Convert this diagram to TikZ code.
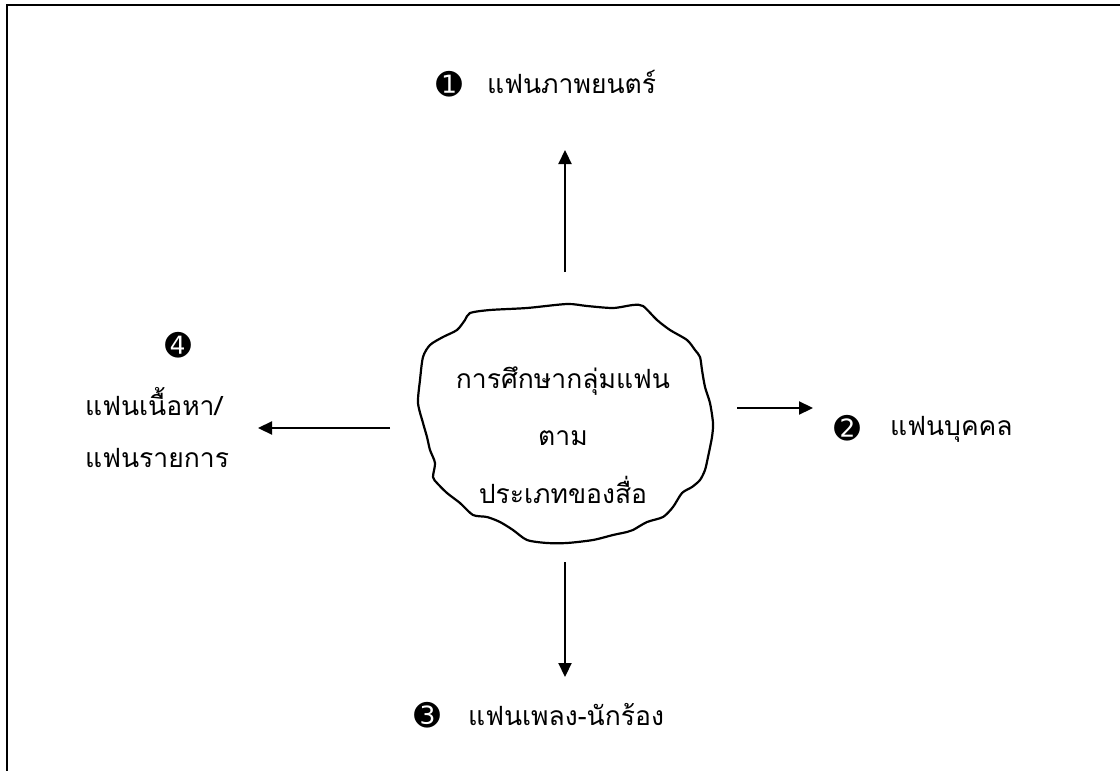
\documentclass[tikz,border=0pt]{standalone}
\usepackage{fontspec}
\newfontfamily\thaifont[Script=Thai]{Loma}
\newfontfamily\numfont{DejaVu Sans}
\usetikzlibrary{arrows.meta}
\tikzset{
  thai/.style={inner sep=0pt, font=\thaifont\fontsize{26.5}{30}\selectfont},
  num/.style={inner sep=0pt, font=\numfont\fontsize{31}{31}\selectfont},
  conn/.style={line width=2.2pt, -{Triangle[length=14pt,width=13pt]}},
  frame/.style={line width=2.6pt},
  cloudline/.style={line width=2.2pt, line join=round}
}
\begin{document}
\begin{tikzpicture}[x=1pt,y=-1pt]
\useasboundingbox (0,0) rectangle (1120,771);
% frame (top and left edges only)
\draw[frame] (7,771) -- (7,5) -- (1120,5);
% cloud
\draw[cloudline] plot[smooth cycle, tension=0.45] coordinates {
 (470,313) (490,310) (527,308) (567,304) (587,306) (613,308) (633,305) (643,306)
 (657,320) (670,330) (687,340) (695,350) (700,357) (702,370) (705,387) (710,403)
 (713,423) (712,437) (708,457) (705,470) (700,480) (692,487) (682,493) (673,507)
 (663,517) (647,522) (633,530) (627,532) (613,535) (593,540) (567,543) (547,543)
 (527,540) (513,530) (500,522) (487,517) (473,515) (460,503) (447,493) (437,483)
 (433,477) (435,463) (430,450) (427,437) (423,423) (418,403) (420,380) (423,357)
 (430,345) (443,337) (457,330) (465,320)};
% centre text
\node[thai, anchor=base] (c1) at (563,388) {การศึกษากลุ่มแฟน};
\node[thai, anchor=base] (c2) at (563,445) {ตาม};
\node[thai, anchor=base] (c3) at (563,503) {ประเภทของสื่อ};
% connector endpoints
\coordinate (tA) at (565,272); \coordinate (tB) at (565,150);
\coordinate (rA) at (737,408); \coordinate (rB) at (813,408);
\coordinate (bA) at (565,562); \coordinate (bB) at (565,677);
\coordinate (lA) at (390,428); \coordinate (lB) at (258,428);
\draw[conn] (tA) -- (tB);
\draw[conn] (rA) -- (rB);
\draw[conn] (bA) -- (bB);
\draw[conn] (lA) -- (lB);
% labels
\node[num] (n1) at (449,84) {➊};
\node[thai, anchor=base west] (l1) at (487,93) {แฟนภาพยนตร์};
\node[num] (n2) at (847,428) {➋};
\node[thai, anchor=base west] (l2) at (890,435) {แฟนบุคคล};
\node[num] (n3) at (427,715) {➌};
\node[thai, anchor=base west] (l3) at (468,725) {แฟนเพลง-นักร้อง};
\node[num] (n4) at (178,345) {➍};
\node[thai, anchor=base west] (l4a) at (85,415) {แฟนเนื้อหา/};
\node[thai, anchor=base west] (l4b) at (85,467) {แฟนรายการ};
\end{tikzpicture}
\end{document}
